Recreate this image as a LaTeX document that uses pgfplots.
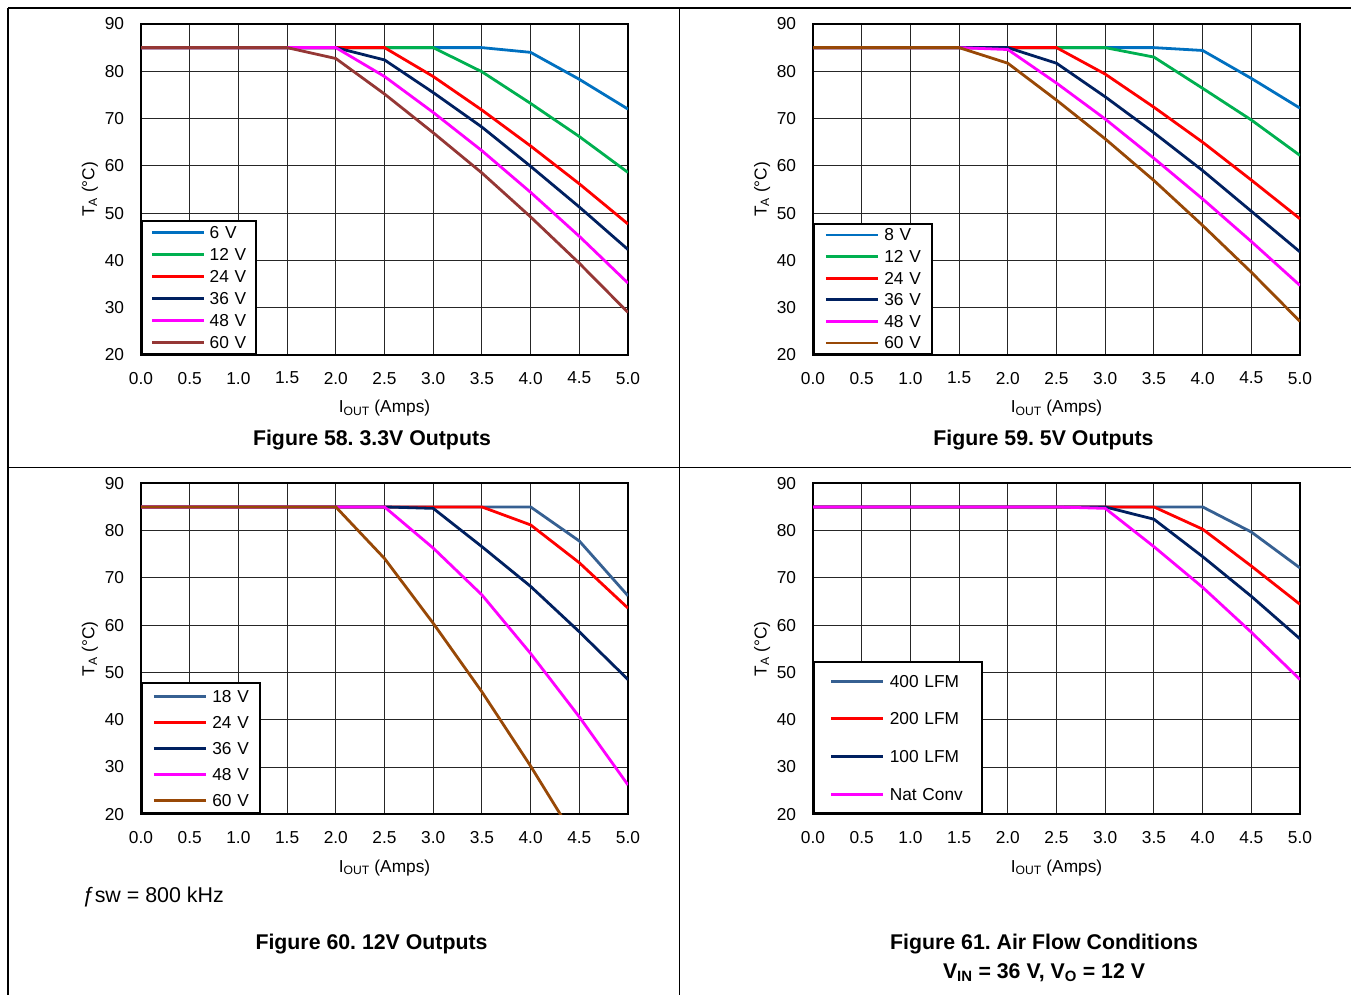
\documentclass[border=0pt]{standalone}
\usepackage{pgfplots}
\pgfplotsset{compat=1.18}
\usepackage{pgfplotstable}
\usepackage{fontspec}
\setmainfont{Liberation Sans}
\frenchspacing
\newcommand\sm{\fontsize{17.3}{20}\selectfont}
\newcommand\tit{\fontsize{21.3}{25}\selectfont\bfseries}
\definecolor{cblue}{RGB}{0,112,192}
\definecolor{cgreen}{RGB}{0,176,80}
\definecolor{cred}{RGB}{255,0,0}
\definecolor{cnavy}{RGB}{0,32,96}
\definecolor{cmag}{RGB}{255,0,255}
\definecolor{cbrownA}{RGB}{149,55,53}
\definecolor{cbrownB}{RGB}{152,72,6}
\definecolor{csteel}{RGB}{54,96,146}

\pgfplotstableread{
x   a    b    c    d    e    f
0   85   85   85   85   85   85
0.5 85   85   85   85   85   85
1   85   85   85   85   85   85
1.5 85   85   85   85   85   85
2   85   85   85   85   85   82.7
2.5 85   85   85   82.4 78.9 75.2
3   85   85   78.9 75.5 71.3 67.0
3.5 85   79.9 71.8 68.2 63.2 58.5
4   84.0 73.2 64.2 59.9 54.4 49.2
4.5 78.3 66.2 56.2 51.3 45.1 39.4
5   72.0 58.6 47.7 42.3 35.2 29.0
}\figA
\pgfplotstableread{
x   a    b    c    d    e    f
0   85   85   85   85   85   85
0.5 85   85   85   85   85   85
1   85   85   85   85   85   85
1.5 85   85   85   85   85   85
2   85   85   85   85   84.6 81.7
2.5 85   85   85   81.7 77.5 73.9
3   85   85   79.4 74.6 69.9 65.7
3.5 85   83.0 72.4 67.0 61.6 56.9
4   84.4 76.4 65.0 59.0 53.0 47.4
4.5 78.5 69.7 57.0 50.4 44.0 37.5
5   72.2 62.2 48.8 41.8 34.7 27.1
}\figB
\pgfplotstableread{
x   a    b    c    d    e
0   85   85   85   85   85
0.5 85   85   85   85   85
1   85   85   85   85   85
1.5 85   85   85   85   85
2   85   85   85   85   85
2.5 85   85   85   85   74.1
3   85   85   84.7 76.3 60.4
3.5 85   85   76.6 66.4 45.9
4   85   81.2 68.2 54.0 30.2
4.5 77.8 73.2 58.6 40.6 13.5
5   66.2 63.6 48.5 26.2 nan
}\figC
\pgfplotstableread{
x   a    b    c    d
0   85   85   85   85
0.5 85   85   85   85
1   85   85   85   85
1.5 85   85   85   85
2   85   85   85   85
2.5 85   85   85   85
3   85   85   85   84.7
3.5 85   85   82.4 76.6
4   85   80.3 74.5 68.0
4.5 79.7 72.5 66.1 58.5
5   72.1 64.4 57.1 48.5
}\figD

\pgfplotsset{
  base/.style={
    scale only axis, width=487pt, height=331pt, anchor=south west,
    xmin=0, xmax=5, ymin=20, ymax=90,
    xtick={0,0.5,1,1.5,2,2.5,3,3.5,4,4.5,5}, ytick={20,30,40,50,60,70,80,90},
    grid=major, major grid style={black!85, line width=0.9pt},
    axis line style={line width=2.4pt, black},
    major tick length=0pt,
    /pgf/number format/assume math mode=true,
    tick label style={font=\sm},
    xticklabel style={/pgf/number format/.cd, fixed, fixed zerofill, precision=1, /tikz/.cd, anchor=north, inner sep=0pt, yshift=-16.8pt},
    yticklabel style={anchor=east, inner sep=0pt, xshift=-16.7pt},
    xlabel={I\textsubscript{OUT} (Amps)}, ylabel={T\textsubscript{A} (°C)},
    every axis x label/.style={at={(axis description cs:0.5,-0.175)}, anchor=base, font=\sm},
    every axis y label/.style={at={(axis description cs:-0.0955,0.5)}, anchor=base, rotate=90, font=\sm},
    every axis plot/.append style={line width=2.8pt, no markers},
    legend cell align=left,
    legend image code/.code={\draw[##1] (0pt,0pt) -- (52pt,0pt);},
  },
  leg/.style n args={6}{legend style={at={(0,0)}, anchor=south west, draw=black, line width=2pt, fill=white,
     inner xsep=#1, inner ysep=#2, row sep=#3, column sep=#4,
     nodes={inner sep=0pt, text height=12pt, text depth=0pt, text width=#5, align=left, font=\sm}}},
}

\begin{document}
\begin{tikzpicture}[x=1pt,y=1pt]
\useasboundingbox (0,0) rectangle (1351,995);
\draw[line width=1.3pt] (8,987) -- (1351,987);
\draw[line width=1.3pt] (8,527.7) -- (1351,527.7);
\draw[line width=1.3pt] (8,987) -- (8,0);
\draw[line width=1.3pt] (679.3,987) -- (679.3,0);

\begin{axis}[base, at={(141pt,640pt)}, leg={8.6pt}{5.3pt}{10.1pt}{4.3pt}{37.5pt}{}]
\addplot[cblue] table[x=x,y=a]{\figA};
\addplot[cgreen] table[x=x,y=b]{\figA};
\addplot[cred] table[x=x,y=c]{\figA};
\addplot[cnavy] table[x=x,y=d]{\figA};
\addplot[cmag] table[x=x,y=e]{\figA};
\addplot[cbrownA] table[x=x,y=f]{\figA};
\legend{6 V,12 V,24 V,36 V,48 V,60 V}
\end{axis}

\begin{axis}[base, at={(813pt,640pt)}, leg={10.5pt}{5pt}{9.6pt}{5pt}{37.5pt}{}]
\addplot[cblue] table[x=x,y=a]{\figB};
\addplot[cgreen] table[x=x,y=b]{\figB};
\addplot[cred] table[x=x,y=c]{\figB};
\addplot[cnavy] table[x=x,y=d]{\figB};
\addplot[cmag] table[x=x,y=e]{\figB};
\addplot[cbrownB] table[x=x,y=f]{\figB};
\legend{8 V,12 V,24 V,36 V,48 V,60 V}
\end{axis}

\begin{axis}[base, at={(141pt,180.7pt)}, leg={10.5pt}{7pt}{14pt}{5pt}{37.5pt}{}, unbounded coords=jump]
\addplot[csteel] table[x=x,y=a]{\figC};
\addplot[cred] table[x=x,y=b]{\figC};
\addplot[cnavy] table[x=x,y=c]{\figC};
\addplot[cmag] table[x=x,y=d]{\figC};
\addplot[cbrownB] table[x=x,y=e]{\figC};
\legend{18 V,24 V,36 V,48 V,60 V}
\end{axis}

\begin{axis}[base, at={(813pt,180.7pt)}, leg={16pt}{13pt}{25.7pt}{5pt}{76pt}{}]
\addplot[csteel] table[x=x,y=a]{\figD};
\addplot[cred] table[x=x,y=b]{\figD};
\addplot[cnavy] table[x=x,y=c]{\figD};
\addplot[cmag] table[x=x,y=d]{\figD};
\legend{400 LFM,200 LFM,100 LFM,Nat Conv}
\end{axis}

\node[anchor=base, font=\tit] at (372,549.5) {Figure 58. 3.3V Outputs};
\node[anchor=base, font=\tit] at (1043.5,549.5) {Figure 59. 5V Outputs};
\node[anchor=base, font=\tit] at (371.5,45) {Figure 60. 12V Outputs};
\node[anchor=base, font=\tit] at (1044,45) {Figure 61. Air Flow Conditions};
\node[anchor=base, font=\tit] at (1044,16.7) {V\textsubscript{IN} = 36 V, V\textsubscript{O} = 12 V};
\node[anchor=base west, inner sep=0pt, font=\fontsize{21.4}{25}\selectfont] at (82.7,92.3) {ƒsw = 800 kHz};
\end{tikzpicture}
\end{document}
